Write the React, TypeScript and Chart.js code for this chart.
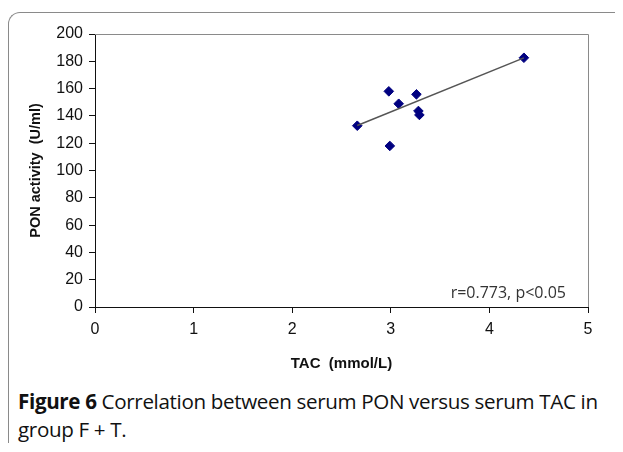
import React, { useEffect, useRef } from "react";
import { Chart, registerables } from "chart.js";

Chart.register(...registerables);

const tacValues = [2.66, 2.98, 3.08, 3.26, 3.28, 3.29, 2.99, 4.35];
const ponValues = [132.8, 158, 148.9, 155.8, 143.6, 140.7, 118, 182.6];
const trendX = [2.66, 4.35];
const trendY = [133, 182.5];
const xTicks = [0, 1, 2, 3, 4, 5];
const yTicks = [0, 20, 40, 60, 80, 100, 120, 140, 160, 180, 200];
const annotationText = "r=0.773, p<0.05";
const xTitle = "TAC  (mmol/L)";
const yTitle = "PON activity  (U/ml)";

const framePlugin = {
  id: "frameAndNote",
  beforeDatasetsDraw(chart: any) {
    const { ctx, chartArea } = chart;
    ctx.save();
    ctx.strokeStyle = "#8a8a8a";
    ctx.lineWidth = 1;
    ctx.beginPath();
    ctx.moveTo(chartArea.left, chartArea.top + 0.5);
    ctx.lineTo(chartArea.right + 0.5, chartArea.top + 0.5);
    ctx.lineTo(chartArea.right + 0.5, chartArea.bottom);
    ctx.stroke();
    ctx.fillStyle = "#333";
    ctx.font = "16px 'Open Sans'";
    ctx.textAlign = "right";
    ctx.textBaseline = "middle";
    ctx.fillText(annotationText, chartArea.right - 22, chartArea.bottom - 14);
    ctx.restore();
  },
};

export default function App() {
  const ref = useRef<HTMLCanvasElement>(null);
  useEffect(() => {
    document.body.style.overflow = "hidden";
    const chart = new Chart(ref.current as HTMLCanvasElement, {
      type: "scatter",
      data: {
        datasets: [
          {
            type: "line",
            data: trendX.map((x, i) => ({ x, y: trendY[i] })),
            borderColor: "#555",
            borderWidth: 1.5,
            pointRadius: 0,
            fill: false,
          } as any,
          {
            data: tacValues.map((x, i) => ({ x, y: ponValues[i] })),
            pointStyle: "rectRot",
            pointRadius: 4.8,
            backgroundColor: "#000080",
            borderColor: "#000080",
            borderWidth: 1,
          },
        ],
      },
      options: {
        animation: false,
        responsive: false,
        layout: { padding: { top: 21, right: 35, left: 0, bottom: 0 } },
        plugins: { legend: { display: false }, tooltip: { enabled: false } },
        scales: {
          x: {
            type: "linear",
            min: 0,
            max: 5,
            afterBuildTicks: (s: any) => {
              s.ticks = xTicks.map((v) => ({ value: v }));
            },
            afterFit: (s: any) => {
              s.height = 78;
            },
            ticks: {
              font: { family: "'Liberation Sans', Arial", size: 16 },
              color: "#111",
              padding: 7,
            },
            grid: { drawOnChartArea: false, tickLength: 6, color: "#111" },
            border: { color: "#111", width: 1 },
            title: {
              display: true,
              text: xTitle,
              font: { family: "'Liberation Sans', Arial", size: 15, weight: "bold" },
              color: "#111",
              padding: { top: 4, bottom: 12 },
            },
          },
          y: {
            type: "linear",
            min: 0,
            max: 200,
            afterBuildTicks: (s: any) => {
              s.ticks = yTicks.map((v) => ({ value: v }));
            },
            afterFit: (s: any) => {
              s.width = 86;
            },
            ticks: {
              font: { family: "'Liberation Sans', Arial", size: 16 },
              color: "#111",
              padding: 6,
            },
            grid: { drawOnChartArea: false, tickLength: 6, color: "#111" },
            border: { color: "#111", width: 1 },
            title: {
              display: true,
              text: yTitle,
              font: { family: "'Liberation Sans', Arial", size: 14.5, weight: "bold" },
              color: "#111",
              padding: { top: 18, bottom: 4 },
            },
          },
        },
      },
      plugins: [framePlugin],
    } as any);
    return () => chart.destroy();
  }, []);

  return (
    <div
      style={{
        position: "relative",
        marginTop: 4,
        width: 614,
        height: 430,
        borderLeft: "1px solid #8a8a8a",
        borderTop: "1px solid #8a8a8a",
        borderTopLeftRadius: 12,
        boxSizing: "content-box",
      }}
    >
      <canvas
        ref={ref}
        width={614}
        height={372}
        style={{ position: "absolute", left: 0, top: 0, width: 614, height: 372 }}
      />
      <div
        style={{
          position: "absolute",
          left: 9,
          top: 374,
          fontFamily: "'Open Sans', sans-serif",
          fontSize: 20.6,
          lineHeight: "28px",
          color: "#111",
          width: 610,
          whiteSpace: "nowrap",
          letterSpacing: -0.35,
          fontWeight: 500,
        }}
      >
        <b>Figure 6</b> Correlation between serum PON versus serum TAC in
        <br />
        group F + T.
      </div>
    </div>
  );
}
